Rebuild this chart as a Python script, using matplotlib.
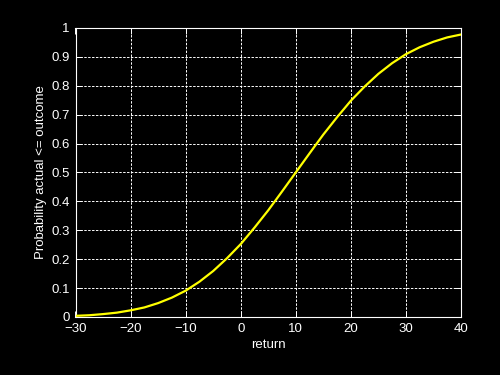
import matplotlib
matplotlib.use("Agg")
import matplotlib.pyplot as plt

returns = [-30, -27.5, -25, -22.5, -20, -17.5, -15, -12.5, -10, -7.5, -5, -2.5,
           0, 2.5, 5, 7.5, 10, 12.5, 15, 17.5, 20, 22.5, 25, 27.5, 30, 32.5,
           35, 37.5, 40]
prob = [0.004, 0.006, 0.010, 0.015, 0.023, 0.033, 0.048, 0.067, 0.091, 0.122,
        0.159, 0.203, 0.252, 0.309, 0.369, 0.434, 0.500, 0.566, 0.631, 0.691,
        0.748, 0.797, 0.841, 0.878, 0.909, 0.933, 0.952, 0.967, 0.977]
xticks = [-30, -20, -10, 0, 10, 20, 30, 40]
yticks = [0, 0.1, 0.2, 0.3, 0.4, 0.5, 0.6, 0.7, 0.8, 0.9, 1]
yticklabels = ["0", "0.1", "0.2", "0.3", "0.4", "0.5", "0.6", "0.7", "0.8", "0.9", "1"]

plt.rcParams['font.family'] = ['Liberation Sans', 'DejaVu Sans']

fig = plt.figure(figsize=(5, 3.75), dpi=100, facecolor='black')
ax = fig.add_axes([0.151, 0.1547, 0.771, 0.771], facecolor='black')

ax.plot(returns, prob, color='yellow', linewidth=1.6, zorder=3)

ax.set_xlim(-30, 40)
ax.set_ylim(0, 1)
ax.set_xticks(xticks)
ax.set_yticks(yticks)
ax.set_yticklabels(yticklabels)

ax.grid(True, color='white', linestyle=(0, (2.5, 1.5)), linewidth=0.7)
for s in ax.spines.values():
    s.set_color('white')
    s.set_linewidth(0.8)
ax.tick_params(colors='white', direction='in', top=True, right=True,
               labelsize=9.5, length=4, width=0.7)
ax.tick_params(axis='x', pad=4.5)
ax.tick_params(axis='y', pad=4)

ax.set_xlabel('return', color='white', fontsize=9.5, labelpad=3)
ax.set_ylabel('Probability actual <= outcome', color='white', fontsize=9.5, labelpad=3)

fig.savefig('out.png', dpi=100, facecolor='black')
